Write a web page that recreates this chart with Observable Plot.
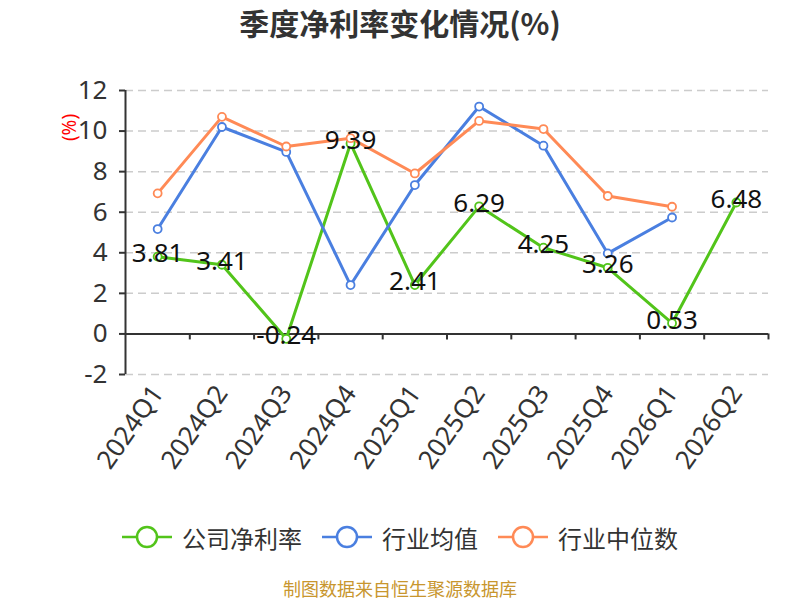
<!DOCTYPE html>
<html>
<head>
<meta charset="utf-8">
<script src="https://cdn.jsdelivr.net/npm/d3@7"></script>
<script src="https://cdn.jsdelivr.net/npm/@observablehq/plot@0.6"></script>
<style>
  html, body { margin: 0; padding: 0; background: #fff; }
  #wrap { position: relative; width: 800px; height: 600px; overflow: hidden; background: #fff; }
  #title { position: absolute; left: 0; top: 0; width: 800px; height: 44px; line-height: 44px; text-align: center;
           font-family: "Noto Sans CJK SC", "Noto Sans", sans-serif; font-weight: bold; font-size: 30px; color: #333; }
  #chart { position: absolute; left: 0; top: 50px; }
  #legend { position: absolute; left: 0; top: 522px; width: 800px; height: 30px; display: flex; justify-content: center; align-items: center;
            font-family: "Noto Sans CJK SC", "Noto Sans", sans-serif; font-size: 24px; color: #333; }
  .item { display: flex; align-items: center; margin: 0 10px; }
  .item svg { margin-right: 10px; }
  #caption { position: absolute; left: 0; top: 576px; width: 800px; height: 24px; line-height: 24px; text-align: center;
             font-family: "Noto Sans CJK SC", "Noto Sans", sans-serif; font-size: 18px; color: #C8962E; }
</style>
</head>
<body>
<div id="wrap">
  <div id="title">季度净利率变化情况(%)</div>
  <div id="chart"></div>
  <div id="legend"></div>
  <div id="caption">制图数据来自恒生聚源数据库</div>
</div>
<script>
const quarters = ["2024Q1","2024Q2","2024Q3","2024Q4","2025Q1","2025Q2","2025Q3","2025Q4","2026Q1","2026Q2"];
const companyRate = [3.81, 3.41, -0.24, 9.39, 2.41, 6.29, 4.25, 3.26, 0.53, 6.48];
const industryAvg = [5.17, 10.2, 8.97, 2.41, 7.34, 11.21, 9.28, 3.97, 5.74, null];
const industryMedian = [6.93, 10.7, 9.24, 9.65, 7.91, 10.5, 10.1, 6.8, 6.27, null];
const yTicks = [-2, 0, 2, 4, 6, 8, 10, 12];
const seriesNames = ["公司净利率", "行业均值", "行业中位数"];
const seriesColors = ["#52C41A", "#4A7FE0", "#FF8A56"];

const indices = quarters.map((q, i) => i);
const boundaries = quarters.map((q, i) => i + 0.5);
const xDomain = [-0.5, quarters.length - 0.5];

const rows = quarters.map((q, i) => ({ i, q, company: companyRate[i], avg: industryAvg[i], median: industryMedian[i] }));
const avgRows = rows.filter(d => d.avg != null);
const medRows = rows.filter(d => d.median != null);

const chart = Plot.plot({
  width: 800,
  height: 450,
  marginTop: 40,
  marginBottom: 126,
  marginLeft: 125,
  marginRight: 32,
  x: { type: "linear", domain: xDomain },
  y: { domain: [yTicks[0], yTicks[yTicks.length - 1]] },
  style: { fontFamily: '"Noto Sans", "Open Sans", sans-serif', fontSize: "26px", color: "#333", background: "white", overflow: "visible" },
  marks: [
    Plot.gridY(yTicks, { stroke: "#ccc", strokeOpacity: 1, strokeDasharray: "8,5", strokeWidth: 1.5 }),
    Plot.axisY(yTicks, { tickSize: 6, tickPadding: 12, tickFormat: d => `${d}`, fontSize: 26, label: null, stroke: "#333", strokeWidth: 2, fill: "#333" }),
    Plot.axisX(indices, { anchor: "bottom", tickSize: 0, tickPadding: 14, tickRotate: -55, tickFormat: i => quarters[i], fontSize: 26, label: null, fill: "#333" }),
    Plot.ruleX([xDomain[0]], { stroke: "#333", strokeWidth: 2 }),
    Plot.ruleY([0], { stroke: "#333", strokeWidth: 2 }),
    Plot.ruleX(boundaries, { x: d => d, y1: 0, y2: 0, insetBottom: -6, stroke: "#333", strokeWidth: 2 }),
    Plot.line(rows, { x: "i", y: "company", stroke: seriesColors[0], strokeWidth: 3 }),
    Plot.line(avgRows, { x: "i", y: "avg", stroke: seriesColors[1], strokeWidth: 3 }),
    Plot.line(medRows, { x: "i", y: "median", stroke: seriesColors[2], strokeWidth: 3 }),
    Plot.dot(rows, { x: "i", y: "company", r: 4, fill: "white", stroke: seriesColors[0], strokeWidth: 1.8 }),
    Plot.dot(avgRows, { x: "i", y: "avg", r: 4, fill: "white", stroke: seriesColors[1], strokeWidth: 1.8 }),
    Plot.dot(medRows, { x: "i", y: "median", r: 4, fill: "white", stroke: seriesColors[2], strokeWidth: 1.8 }),
    Plot.text(rows, { x: "i", y: "company", text: d => d.company.toFixed(2), dy: -3, fontSize: 26, fill: "#111" }),
    Plot.text(["(%)"], { frameAnchor: "top-left", dx: -63, dy: 37, rotate: -90, textAnchor: "middle", fill: "red", fontSize: 19 })
  ]
});
document.getElementById("chart").appendChild(chart);

const legend = document.getElementById("legend");
seriesNames.forEach((name, k) => {
  const item = document.createElement("div");
  item.className = "item";
  item.innerHTML = `<svg width="50" height="24"><line x1="0" y1="12" x2="50" y2="12" stroke="${seriesColors[k]}" stroke-width="2.5"/><circle cx="25" cy="12" r="10" fill="white" stroke="${seriesColors[k]}" stroke-width="2.5"/></svg><span>${name}</span>`;
  legend.appendChild(item);
});
</script>
</body>
</html>
